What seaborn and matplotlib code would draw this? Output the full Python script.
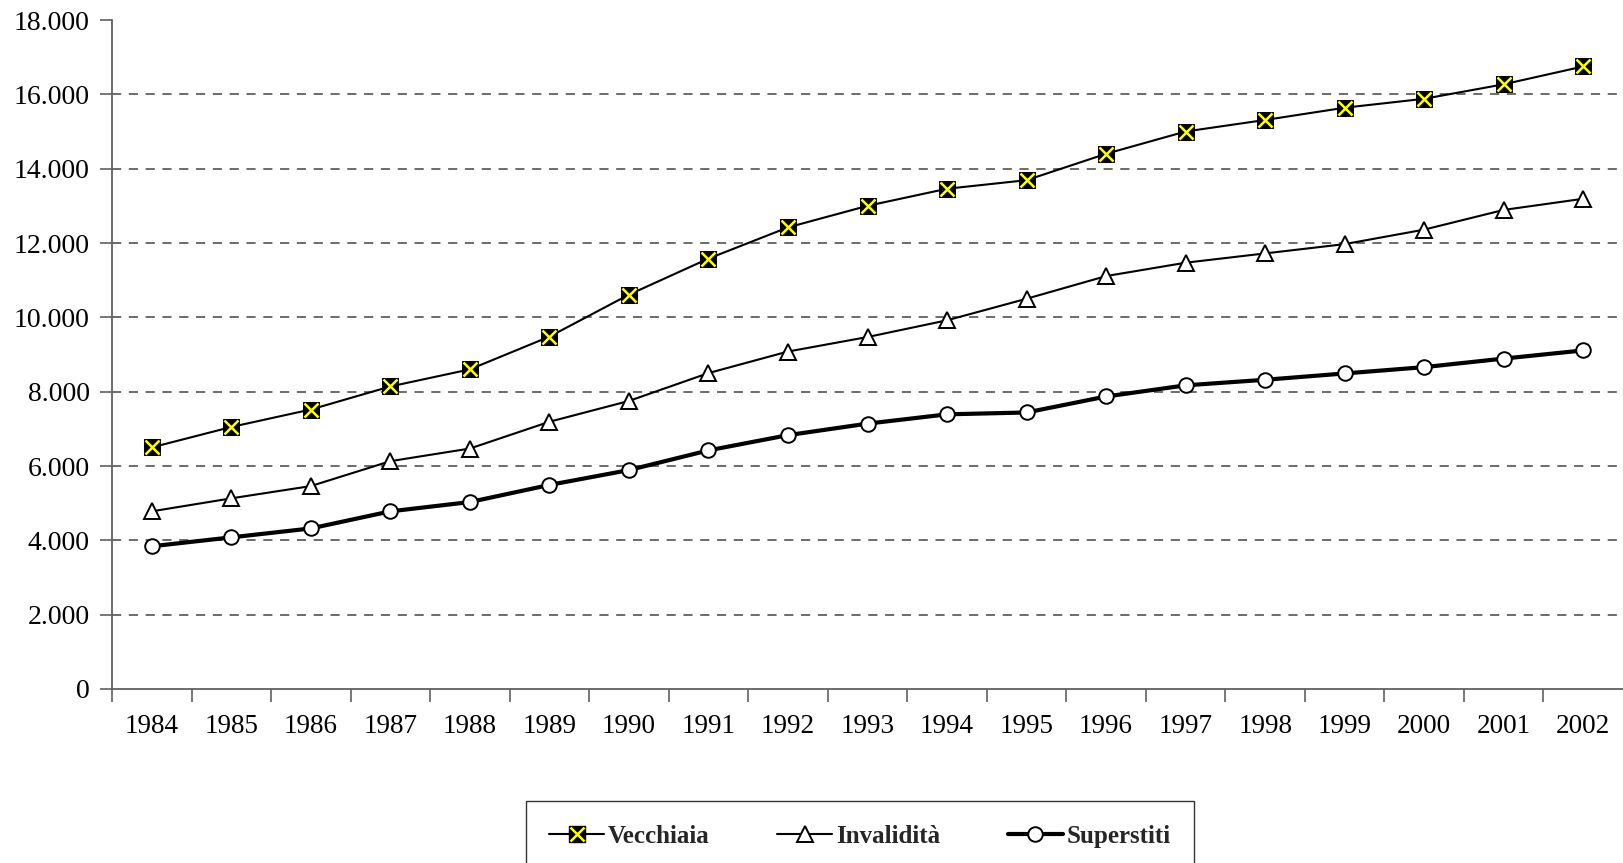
import matplotlib
matplotlib.use("Agg")
import matplotlib.pyplot as plt
import seaborn as sns
import pandas as pd
from matplotlib.ticker import FuncFormatter, FixedLocator
from matplotlib.lines import Line2D
from matplotlib.legend_handler import HandlerTuple

years = list(range(1984, 2003))
vecchiaia = [6500, 7050, 7520, 8140, 8600, 9480, 10610, 11580, 12420, 13000,
             13460, 13690, 14400, 15000, 15310, 15640, 15880, 16270, 16750]
invalidita = [4780, 5130, 5460, 6130, 6470, 7190, 7750, 8500, 9080, 9470,
              9920, 10500, 11110, 11470, 11720, 11970, 12360, 12890, 13190]
superstiti = [3840, 4080, 4320, 4780, 5030, 5490, 5890, 6420, 6830, 7140,
              7390, 7440, 7870, 8170, 8320, 8490, 8660, 8890, 9110]
series_names = ["Vecchiaia", "Invalidità", "Superstiti"]
y_ticks = list(range(0, 18001, 2000))

sns.set_theme(style="white")
plt.rcParams["font.family"] = ["Liberation Serif", "DejaVu Serif"]

fig = plt.figure(figsize=(16.23, 8.63), dpi=100)
ax = fig.add_axes([112/1623, 1 - 689/863, 1 - 112/1623, (689 - 20)/863])

df = pd.DataFrame({"Anno": years, "Vecchiaia": vecchiaia,
                   "Invalidità": invalidita, "Superstiti": superstiti})

ms_sq = 11.5
ms_x = 10.5
ms = 10.5
# Vecchiaia: black square with yellow X
sns.lineplot(data=df, x="Anno", y="Vecchiaia", ax=ax, color="black", linewidth=1.5,
             marker="s", markersize=ms_sq, markerfacecolor="black", markeredgecolor="black",
             zorder=3)
sns.lineplot(data=df, x="Anno", y="Vecchiaia", ax=ax, color="none", linewidth=0,
             marker="x", markersize=ms_x, markeredgecolor="#ffff00", markeredgewidth=1.8,
             zorder=4)
sns.lineplot(data=df, x="Anno", y="Invalidità", ax=ax, color="black", linewidth=1.5,
             marker="^", markersize=ms + 0.5, markerfacecolor="white", markeredgecolor="black",
             markeredgewidth=1.4, zorder=3)
sns.lineplot(data=df, x="Anno", y="Superstiti", ax=ax, color="black", linewidth=3,
             marker="o", markersize=ms, markerfacecolor="white", markeredgecolor="black",
             markeredgewidth=1.4, zorder=3)

ax.set_xlim(years[0] - 0.5, years[-1] + 0.5)
ax.set_ylim(0, 18000)
ax.set_xlabel("")
ax.set_ylabel("")

ax.xaxis.set_major_locator(FixedLocator(years))
ax.xaxis.set_minor_locator(FixedLocator([y + 0.5 for y in years[:-1]] + [years[0] - 0.5]))
ax.set_xticklabels([str(y) for y in years])
ax.yaxis.set_major_locator(FixedLocator(y_ticks))
ax.yaxis.set_major_formatter(FuncFormatter(lambda v, p: f"{int(v):,}".replace(",", ".")))

ax.tick_params(axis="x", which="major", length=0, pad=18, labelsize=19.5, colors="black")
ax.tick_params(axis="x", which="minor", length=9, width=1.2, color="#606060", bottom=True)
ax.tick_params(axis="y", which="major", length=9, width=1.2, color="#606060", labelsize=20,
               labelcolor="black", pad=7, left=True)

for s in ["top", "right"]:
    ax.spines[s].set_visible(False)
for s in ["left", "bottom"]:
    ax.spines[s].set_color("#606060")
    ax.spines[s].set_linewidth(1.3)

ax.yaxis.grid(True, linestyle=(0, (6, 5)), color="#444444", linewidth=1.1)
ax.xaxis.grid(False)
gl = ax.get_ygridlines()
gl[0].set_visible(False)
gl[-1].set_visible(False)
ax.set_axisbelow(True)

h_v = (Line2D([], [], color="black", linewidth=1.5, marker="s", markersize=ms_sq,
              markerfacecolor="black", markeredgecolor="black"),
       Line2D([], [], color="none", linewidth=0, marker="x", markersize=ms_x,
              markeredgecolor="#ffff00", markeredgewidth=1.8))
h_i = Line2D([], [], color="black", linewidth=1.5, marker="^", markersize=ms + 0.5,
             markerfacecolor="white", markeredgecolor="black", markeredgewidth=1.4)
h_s = Line2D([], [], color="black", linewidth=3, marker="o", markersize=ms,
             markerfacecolor="white", markeredgecolor="black", markeredgewidth=1.4)

leg = fig.legend([h_v, h_i, h_s], series_names,
                 handler_map={tuple: HandlerTuple(ndivide=1, pad=0)},
                 loc="upper center", bbox_to_anchor=(860/1623, 1 - 801/863),
                 ncol=3, frameon=True, fancybox=False, edgecolor="black",
                 prop={"weight": "bold", "size": 18}, handlelength=2.2,
                 handletextpad=0.15, columnspacing=2.7, borderpad=0.95,
                 borderaxespad=0)
leg.get_frame().set_linewidth(1.0)

fig.savefig("out.png", dpi=100)
